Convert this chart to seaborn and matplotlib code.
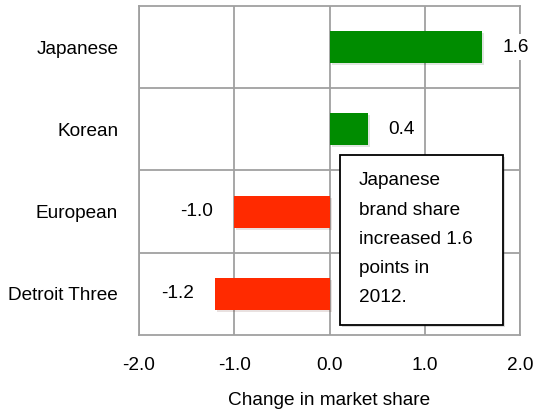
import matplotlib
matplotlib.use("Agg")
import matplotlib.pyplot as plt
import matplotlib.patheffects as pe
from matplotlib.patches import Rectangle
from matplotlib.ticker import FixedLocator
import seaborn as sns
import pandas as pd

# data
groups = ["Japanese", "Korean", "European", "Detroit Three"]
change = [1.6, 0.4, -1.0, -1.2]
x_ticks = [-2.0, -1.0, 0.0, 1.0, 2.0]
note = "Japanese\nbrand share\nincreased 1.6\npoints in\n2012."

GREEN = "#008c00"
RED = "#ff2a00"
GRID = "#a0a0a0"
FS = 13.7

sns.set_style("white")
plt.rcParams["font.family"] = ["Liberation Sans", "DejaVu Sans"]
plt.rcParams["axes.unicode_minus"] = False
plt.rcParams["text.color"] = "black"
plt.rcParams["xtick.color"] = "black"
plt.rcParams["ytick.color"] = "black"
plt.rcParams["axes.labelcolor"] = "black"

df = pd.DataFrame({"group": groups, "change": change})
df["color"] = [GREEN if v > 0 else RED for v in df["change"]]

fig = plt.figure(figsize=(5.37, 4.15), dpi=100)
ax = fig.add_axes([139 / 537, 80 / 415, 381 / 537, 329 / 415])

sns.barplot(data=df, x="change", y="group", hue="group",
            palette=dict(zip(df["group"], df["color"])),
            width=0.39, legend=False, ax=ax, saturation=1)

shadow = [pe.SimplePatchShadow(offset=(1.5, -1.5), alpha=0.12), pe.Normal()]
for bar in ax.patches:
    bar.set_path_effects(shadow)
    bar.set_linewidth(0)

ax.set_xlim(-2, 2)
ax.set_ylim(len(groups) - 0.5, -0.5)
ax.xaxis.set_major_locator(FixedLocator(x_ticks))
ax.set_xticklabels([f"{t:.1f}" for t in x_ticks])
ax.yaxis.set_minor_locator(FixedLocator([i + 0.5 for i in range(len(groups) - 1)]))

ax.grid(axis="x", which="major", color=GRID, linewidth=1.3)
ax.grid(axis="y", which="minor", color=GRID, linewidth=1.3)
ax.set_axisbelow(True)
for s in ax.spines.values():
    s.set_color(GRID)
    s.set_linewidth(1.3)

ax.tick_params(axis="x", length=3, width=1.3, color=GRID, pad=13, labelsize=FS)
ax.tick_params(axis="y", which="both", length=0, pad=15, labelsize=FS)
ax.set_xlabel("Change in market share", fontsize=FS, labelpad=13)
ax.set_ylabel("")

# value labels with white background
for i, v in enumerate(change):
    off = 15 if v > 0 else -15
    ax.annotate(f"{v:.1f}", xy=(v, i), xytext=(off, 0), textcoords="offset points",
                ha="left" if v > 0 else "right", va="center", fontsize=FS,
                bbox=dict(boxstyle="square,pad=0.25", fc="white", ec="none"),
                zorder=5)

# annotation box
box = Rectangle((0.528, 0.030), 0.427, 0.517, transform=ax.transAxes,
                fc="white", ec="black", lw=1.3, zorder=6, clip_on=False,
                path_effects=[pe.SimplePatchShadow(offset=(1.5, -1.5), alpha=0.2), pe.Normal()])
ax.add_patch(box)
ax.text(0.577, 0.494, note, transform=ax.transAxes, ha="left", va="top",
        fontsize=FS, linespacing=1.93, zorder=7)

fig.savefig("out.png", dpi=100)
